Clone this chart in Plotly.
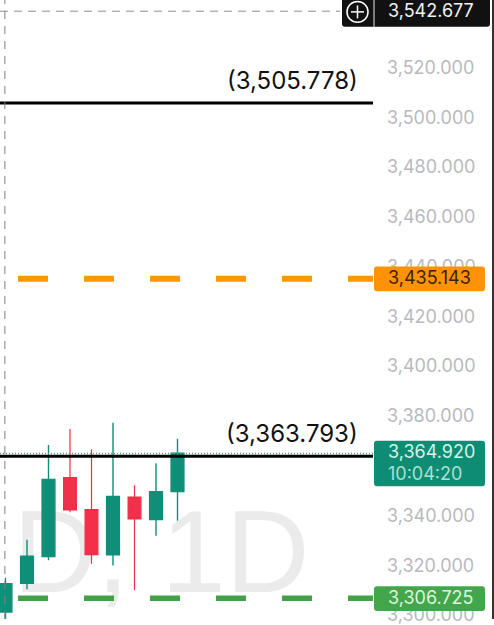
import plotly.graph_objects as go

days = list(range(9))
opens = [3301.2, 3312.7, 3323.5, 3355.2, 3342.3, 3324.2, 3347.4, 3338.3, 3349.6]
highs = [3315.0, 3330.2, 3368.3, 3374.7, 3366.5, 3377.3, 3352.1, 3361.0, 3370.8]
lows = [3290.0, 3310.3, 3322.0, 3341.3, 3320.6, 3319.9, 3309.9, 3331.8, 3337.9]
closes = [3312.6, 3323.6, 3354.5, 3342.2, 3324.2, 3347.6, 3338.6, 3349.5, 3365.0]

upper_level = 3505.778
mid_level = 3363.793
orange_level = 3435.143
green_level = 3306.725
last_price = 3364.920
cross_price = 3542.677
countdown = "10:04:20"
tick_values = [3300, 3320, 3340, 3360, 3380, 3400, 3420, 3440, 3460, 3480, 3500, 3520]
watermark = "D, 1D"

W, H = 494, 625
PW = 373
PXU = 2.512
Y_TOP = upper_level + 104 / PXU
Y_BOT = Y_TOP - H / PXU
X_L = -5.5 / 21.5
X_R = X_L + PW / 21.5
UI = "Inter"


def fx(px):
    return px / PW


def fy(py):
    return 1 - py / H


def rrect(x0, y0, x1, y1, r=3):
    a, b, c, d = fx(x0), fy(y0), fx(x1), fy(y1)
    rx, ry = r / PW, r / H
    return (f"M{a+rx},{b} L{c-rx},{b} Q{c},{b} {c},{b-ry} L{c},{d+ry} Q{c},{d} {c-rx},{d} "
            f"L{a+rx},{d} Q{a},{d} {a},{d+ry} L{a},{b-ry} Q{a},{b} {a+rx},{b} Z")


fig = go.Figure()
fig.add_trace(go.Candlestick(
    x=days, open=opens, high=highs, low=lows, close=closes,
    whiskerwidth=0,
    increasing=dict(line=dict(color="#0f8f78", width=1.4), fillcolor="#0f8f78"),
    decreasing=dict(line=dict(color="#ee2f45", width=1.2), fillcolor="#f2304a"),
    showlegend=False, hoverinfo="skip"))


def hline(level, color, width, dash="solid", x0=X_L, x1=X_R):
    fig.add_trace(go.Scatter(x=[x0, x1], y=[level, level], mode="lines",
                             line=dict(color=color, width=width, dash=dash),
                             showlegend=False, hoverinfo="skip"))


hline(last_price, "#5f9d8d", 1.5, "1px,2px")
hline(upper_level, "#000000", 3)
hline(mid_level, "#000000", 3)
dash_start = X_L + 18 / 21.5
hline(orange_level, "#ff9800", 6, "30px,36px", x0=dash_start)
hline(green_level, "#43a047", 5.5, "30px,36px", x0=dash_start)
hline(cross_price, "#8f8f8f", 1, "8px,6px", x1=X_L + 340 / 21.5)
fig.add_trace(go.Scatter(x=[-0.03, -0.03], y=[Y_BOT, Y_TOP], mode="lines",
                         line=dict(color="#808080", width=1, dash="8px,7px"),
                         showlegend=False, hoverinfo="skip"))

shapes = [
    dict(type="rect", xref="paper", yref="paper", x0=fx(10), x1=fx(11), y0=fy(612), y1=fy(611),
         layer="below", line=dict(width=0), fillcolor="rgba(0,0,0,0)",
         label=dict(text=watermark, font=dict(family="Liberation Sans", size=116, color="#ebebeb"),
                    textposition="bottom left", xanchor="left", yanchor="bottom",
                    padding=0)),
]
for (x0, y0, x1, y1, col) in [
    (374, 269, 485, 294, "#ff9205"),
    (374, 445, 485, 491, "#0e8c74"),
    (374, 592, 485, 617, "#43a64c"),
    (342, -4, 490, 27, "#111111"),
]:
    shapes.append(dict(type="path", xref="paper", yref="paper", path=rrect(x0, y0, x1, y1),
                       fillcolor=col, line=dict(width=0)))
shapes += [
    dict(type="line", xref="paper", yref="paper", x0=fx(374), x1=fx(374), y0=fy(0), y1=fy(27),
         line=dict(color="#e8e8e8", width=1)),
    dict(type="circle", xref="paper", yref="paper", x0=fx(347), x1=fx(368), y0=fy(1.5), y1=fy(22.5),
         line=dict(color="#ffffff", width=1.5)),
    dict(type="line", xref="paper", yref="paper", x0=fx(351), x1=fx(364), y0=fy(12), y1=fy(12),
         line=dict(color="#ffffff", width=1.5)),
    dict(type="line", xref="paper", yref="paper", x0=fx(357.5), x1=fx(357.5), y0=fy(5.5), y1=fy(18.5),
         line=dict(color="#ffffff", width=1.5)),
    dict(type="rect", xref="paper", yref="paper", x0=fx(492), x1=fx(494), y0=0, y1=1,
         line=dict(width=0), fillcolor="#333333"),
]


def note(text, px, py, color, size=18, anchor="left", family=UI):
    return dict(text=text, xref="paper", yref="paper", x=fx(px), y=fy(py), showarrow=False,
                xanchor=anchor, yanchor="middle", font=dict(family=family, size=size, color=color))


annotations = [
    note(f"({upper_level:,.3f})", 360, 81, "#111111", 24, "right"),
    note(f"({mid_level:,.3f})", 360, 438, "#111111", 24, "right"),
    note(f"{cross_price:,.3f}", 386, 11, "#f2f2f2"),
    note(f"{orange_level:,.3f}", 386, 280, "#3a2206"),
    note(f"{last_price:,.3f}", 386, 456, "#d5f3ea"),
    note(countdown, 386, 478, "#a9e0d2"),
    note(f"{green_level:,.3f}", 386, 603, "#dcf5dd"),
]

fig.update_layout(
    width=W, height=H, margin=dict(l=0, r=W - PW, t=0, b=0),
    paper_bgcolor="#ffffff", plot_bgcolor="#ffffff", showlegend=False, boxgap=0.15,
    shapes=shapes, annotations=annotations,
    xaxis=dict(range=[X_L, X_R], visible=False, rangeslider=dict(visible=False), fixedrange=True),
    yaxis=dict(range=[Y_BOT, Y_TOP], side="right", showgrid=False, zeroline=False, showline=False,
               tickvals=tick_values, tickformat=",.3f", ticks="", ticklabelstandoff=13,
               ticklabeloverflow="allow",
               tickfont=dict(family=UI, size=18, color="#b9b9bd"), fixedrange=True),
)
fig.write_html("out.html", config=dict(displayModeBar=False),
               post_script="document.body.style.margin='0';")
